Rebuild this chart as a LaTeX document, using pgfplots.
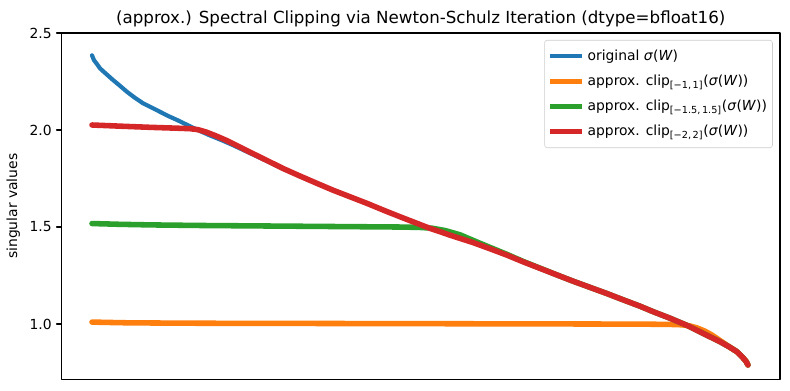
\documentclass[border=0pt]{standalone}
\usepackage{fontspec}
\setmainfont{DejaVu Sans}
\usepackage{pgfplots}
\pgfplotsset{compat=1.18}
\definecolor{tabblue}{HTML}{1F77B4}
\definecolor{taborange}{HTML}{FF7F0E}
\definecolor{tabgreen}{HTML}{2CA02C}
\definecolor{tabred}{HTML}{D62728}
\begin{document}
\begin{tikzpicture}
\useasboundingbox (-44.28pt,-7.7pt) rectangle (524.52pt,273.1pt);
\begin{axis}[
  scale only axis, width=517.3pt, height=249.3pt,
  xmin=61.5, xmax=780, ymin=0.715, ymax=2.5,
  xtick=\empty,
  ytick={1.0,1.5,2.0,2.5},
  ytick pos=left,
  yticklabel={\pgfmathprintnumber[fixed,fixed zerofill,precision=1]{\tick}},
  /pgf/number format/assume math mode=true,
  ticklabel style={font=\fontsize{10}{12}\selectfont},
  tick align=outside, major tick length=3.5pt,
  tick style={black, line width=0.8pt},
  axis line style={line width=0.8pt},
  ylabel={singular values},
  ylabel style={font=\fontsize{10}{12}\selectfont},
  title={(approx.) Spectral Clipping via Newton-Schulz Iteration (dtype=bfloat16)},
  title style={font=\fontsize{12}{14}\selectfont, at={(0.5,1)}, anchor=south, yshift=-5pt},
  legend cell align=left,
  legend style={at={(0.990,0.98)}, anchor=north east, draw=black!20, rounded corners=2pt,
    font=\fontsize{10}{12}\selectfont, inner xsep=2pt, inner ysep=5pt, row sep=5pt},
  legend image code/.code={\draw[#1] (0pt,0pt) -- (23pt,0pt);},
  line join=round, line cap=round,
]
\addplot[tabblue, line width=3pt] coordinates {
(92,2.385) (94,2.36) (97,2.34) (100,2.318) (106,2.29) (113,2.258) (120,2.228) (127,2.197)
(135,2.166) (143,2.138) (152,2.115) (160,2.094) (168,2.073) (177,2.052) (185,2.032) (193,2.012)
(200,1.995) (210,1.972) (222,1.947) (233,1.922) (250,1.881) (267,1.840) (283,1.800) (300,1.762)
(317,1.725) (333,1.690) (350,1.656) (367,1.622) (383,1.588) (400,1.553) (417,1.519) (430,1.493)
(440,1.476) (450,1.458) (473,1.420) (490,1.388) (507,1.355) (523,1.321) (540,1.287) (557,1.253)
(573,1.221) (590,1.189) (607,1.157) (620,1.131) (640,1.092) (653,1.064) (670,1.030) (687,0.993)
(703,0.952) (720,0.909) (730,0.880) (737,0.857) (743,0.826) (746,0.808) (748,0.789)};
\addlegendentry{original \textit{σ}(\textit{W})}
\addplot[taborange, line width=4pt] coordinates {
(92,1.010) (110,1.008) (130,1.006) (200,1.004) (300,1.003) (400,1.002) (500,1.001) (600,1.000)
(650,0.999) (670,0.998) (682,0.996) (690,0.990) (697,0.980) (705,0.963) (712,0.943) (720,0.915)
(730,0.880) (737,0.857) (743,0.826) (746,0.808) (748,0.789)};
\addlegendentry{approx. clip\textsubscript{[−1,\,1]}(\textit{σ}(\textit{W}))}
\addplot[tabgreen, line width=4pt] coordinates {
(92,1.518) (120,1.514) (150,1.511) (200,1.508) (250,1.506) (300,1.504) (350,1.502) (400,1.500)
(420,1.498) (432,1.494) (445,1.482) (460,1.460) (475,1.427) (490,1.395) (507,1.359) (523,1.323)
(540,1.288) (557,1.253) (573,1.221) (590,1.189) (607,1.157) (620,1.131) (640,1.092) (653,1.064)
(670,1.030) (687,0.993) (703,0.952) (720,0.909) (730,0.880) (737,0.857) (743,0.826) (746,0.808) (748,0.789)};
\addlegendentry{approx. clip\textsubscript{[−1.5,\,1.5]}(\textit{σ}(\textit{W}))}
\addplot[tabred, line width=4pt] coordinates {
(92,2.026) (120,2.020) (150,2.014) (180,2.009) (190,2.007) (198,2.002) (206,1.990) (215,1.972)
(225,1.950) (233,1.930) (250,1.886) (267,1.843) (283,1.802) (300,1.763)
(317,1.725) (333,1.690) (350,1.656) (367,1.622) (383,1.588) (400,1.553) (417,1.519) (430,1.493)
(440,1.476) (450,1.458) (473,1.420) (490,1.388) (507,1.355) (523,1.321) (540,1.287) (557,1.253)
(573,1.221) (590,1.189) (607,1.157) (620,1.131) (640,1.092) (653,1.064) (670,1.030) (687,0.993)
(703,0.952) (720,0.909) (730,0.880) (737,0.857) (743,0.826) (746,0.808) (748,0.789)};
\addlegendentry{approx. clip\textsubscript{[−2,\,2]}(\textit{σ}(\textit{W}))}
\end{axis}
\end{tikzpicture}
\end{document}
